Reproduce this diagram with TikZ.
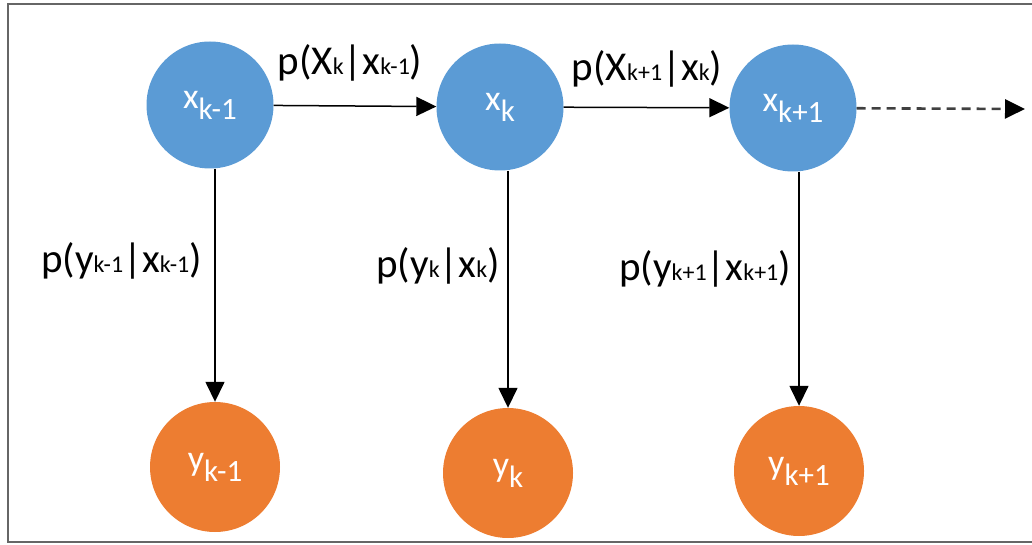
\documentclass[tikz,border=0pt]{standalone}
\usepackage{fontspec}
\setmainfont{Carlito}
\usetikzlibrary{arrows.meta}
\definecolor{stateblue}{HTML}{5B9BD5}
\definecolor{obsorange}{HTML}{ED7D31}
\newcommand{\lsub}[1]{{\fontsize{24}{24}\selectfont #1}}
\newcommand{\csub}[1]{\raisebox{-11pt}{\fontsize{31}{31}\selectfont #1}}

\begin{document}
\begin{tikzpicture}[x=1pt, y=-1pt,
            state/.style = {circle, fill=stateblue, text=white, minimum size=127pt,
                            inner sep=0pt, font=\fontsize{36}{36}\selectfont},
            obs/.style   = {circle, fill=obsorange, text=white, minimum size=130pt,
                            inner sep=0pt, font=\fontsize{36}{36}\selectfont},
            arr/.style   = {line width=1.5pt, -{Triangle[length=20pt,width=19pt,color=black]}},
            lbl/.style   = {inner sep=0pt, font=\fontsize{41}{41}\selectfont}
                        ]
            \useasboundingbox (0,0) rectangle (1032,545);
            % frame
            \draw[line width=2pt, black!60] (1032,4) -- (8,4) -- (8,542) -- (1032,542);
            % hidden states
            \node[state] (xkm) at (210,105) {x\csub{k-1}};
            \node[state] (xk)  at (500,107) {x\csub{k}};
            \node[state] (xkp) at (793,108) {x\csub{k+1}};
            \coordinate (more) at (1025,109);
            % observations
            \node[obs] (ykm) at (215,467) {y\csub{k-1}};
            \node[obs] (yk)  at (508,473) {y\csub{k}};
            \node[obs] (ykp) at (799,471) {y\csub{k+1}};
            % transitions
            \draw[arr] (xkm) -- (xk);
            \draw[arr] (xk) -- (xkp);
            \draw[arr, black!75, line width=2.6pt, dash pattern=on 9pt off 6pt] (xkp) -- (more);
            \node[lbl, anchor=base] (tk)  at (350,75) {p(X\lsub{k}|x\lsub{k-1})};
            \node[lbl, anchor=base] (tkp) at (647,81) {p(X\lsub{k+1}|x\lsub{k})};
            % emissions
            \draw[arr] (xkm.south -| ykm) -- (ykm);
            \draw[arr] (xk.south -| yk) -- (yk);
            \draw[arr] (xkp.south -| ykp) -- (ykp);
            \node[lbl, anchor=base east] (ekm) at (202,272) {p(y\lsub{k-1}|x\lsub{k-1})};
            \node[lbl, anchor=base east] (ek)  at (500,277) {p(y\lsub{k}|x\lsub{k})};
            \node[lbl, anchor=base east] (ekp) at (791,280) {p(y\lsub{k+1}|x\lsub{k+1})};
    \end{tikzpicture}
\end{document}
